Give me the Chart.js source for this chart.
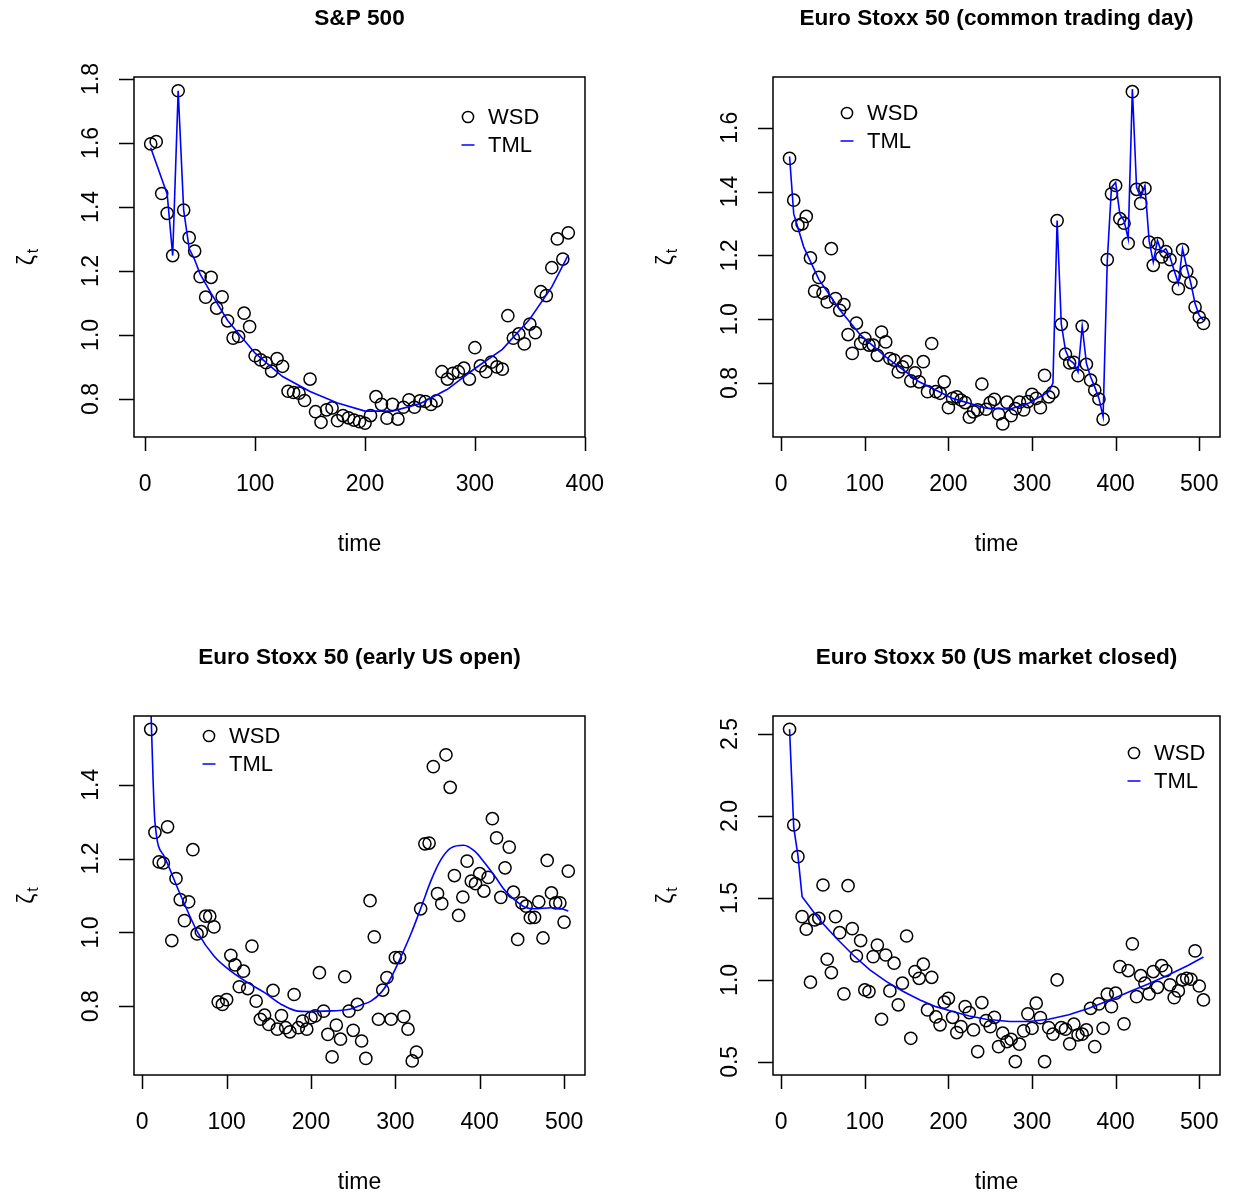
<!DOCTYPE html>
<html><head><meta charset="utf-8">
<script src="https://cdn.jsdelivr.net/npm/chart.js@4.4.1/dist/chart.umd.min.js"></script>
<style>
html,body{margin:0;padding:0;background:#fff;width:1233px;height:1199px;overflow:hidden}
canvas{position:absolute}
</style></head><body>
<canvas id="c1" width="616" height="600" style="left:0px;top:0px"></canvas>
<canvas id="c2" width="616" height="600" style="left:617px;top:0px"></canvas>
<canvas id="c3" width="616" height="599" style="left:0px;top:600px"></canvas>
<canvas id="c4" width="616" height="599" style="left:617px;top:600px"></canvas>
<script>
// ---------- DATA ----------
const titles = ["S&P 500", "Euro Stoxx 50 (common trading day)", "Euro Stoxx 50 (early US open)", "Euro Stoxx 50 (US market closed)"];
const xLabel = "time";

const spTime = [5,10,15,20,25,30,35,40,45,50,55,60,65,70,75,80,85,90,95,100,105,110,115,120,125,130,135,140,145,150,155,160,165,170,175,180,185,190,195,200,205,210,215,220,225,230,235,240,245,250,255,260,265,270,275,280,285,290,295,300,305,310,315,320,325,330,335,340,345,350,355,360,365,370,375,380,385];
const spWSD = [1.597,1.604,1.442,1.38,1.248,1.763,1.39,1.304,1.262,1.182,1.118,1.18,1.084,1.119,1.044,0.99,0.995,1.068,1.026,0.935,0.922,0.913,0.887,0.926,0.902,0.824,0.82,0.818,0.795,0.862,0.76,0.727,0.766,0.772,0.732,0.748,0.741,0.734,0.729,0.724,0.748,0.807,0.783,0.74,0.783,0.737,0.774,0.797,0.774,0.794,0.792,0.783,0.794,0.885,0.862,0.88,0.885,0.896,0.862,0.96,0.903,0.885,0.915,0.9,0.893,1.06,0.99,1.003,0.972,1.034,1.007,1.135,1.123,1.21,1.30,1.237,1.319];
const spTmlTime = [5,20,25,30,35,40,45,50,60,75,100,125,150,175,200,225,250,275,300,325,350,370,385];
const spTML = [1.585,1.44,1.248,1.763,1.39,1.27,1.235,1.19,1.13,1.045,0.943,0.87,0.823,0.787,0.762,0.762,0.785,0.83,0.895,0.955,1.05,1.15,1.25];

const euTime = [10,15,20,25,30,35,40,45,50,55,60,65,70,75,80,85,90,95,100,105,110,115,120,125,130,135,140,145,150,155,160,165,170,175,180,185,190,195,200,205,210,215,220,225,230,235,240,245,250,255,260,265,270,275,280,285,290,295,300,305,310,315,320,325,330,335,340,345,350,355,360,365,370,375,380,385,390,395,400,405,410,415,420,425,430,435,440,445,450,455,460,465,470,475,480,485,490,495,500,505];

const commonWSD = [1.504,1.373,1.294,1.299,1.322,1.192,1.088,1.131,1.082,1.054,1.221,1.065,1.028,1.046,0.952,0.893,0.988,0.924,0.94,0.919,0.919,0.887,0.96,0.929,0.877,0.872,0.835,0.851,0.867,0.807,0.832,0.804,0.867,0.773,0.924,0.773,0.768,0.804,0.723,0.752,0.757,0.747,0.739,0.693,0.71,0.716,0.797,0.718,0.739,0.749,0.703,0.672,0.74,0.698,0.72,0.74,0.716,0.742,0.765,0.752,0.723,0.824,0.757,0.771,1.309,0.984,0.891,0.863,0.865,0.823,0.978,0.859,0.809,0.778,0.75,0.687,1.187,1.393,1.419,1.315,1.301,1.238,1.713,1.407,1.363,1.41,1.242,1.169,1.237,1.195,1.212,1.187,1.134,1.096,1.218,1.15,1.115,1.038,1.007,0.987];
const commonTmlTime = [10,15,27,45,70,95,125,165,205,245,273,296,320,325,330,335,340,345,350,355,360,365,370,375,380,385,390,395,400,405,410,415,420,425,430,435,440,445,450,455,460,465,470,475,480,485,490,495,500,505];
const commonTML = [1.51,1.33,1.226,1.125,1.03,0.95,0.882,0.804,0.752,0.721,0.718,0.737,0.773,0.8,1.309,0.985,0.903,0.872,0.862,0.835,0.978,0.862,0.82,0.788,0.752,0.695,1.184,1.413,1.429,1.33,1.309,1.252,1.721,1.413,1.382,1.419,1.247,1.179,1.247,1.21,1.221,1.195,1.153,1.112,1.221,1.163,1.112,1.049,1.012,0.997];

const earlyWSD = [1.55,1.271,1.191,1.188,1.286,0.978,1.146,1.089,1.032,1.083,1.224,0.996,1.002,1.044,1.044,1.015,0.812,0.805,0.818,0.938,0.912,0.853,0.895,0.848,0.963,0.814,0.765,0.776,0.751,0.843,0.738,0.775,0.742,0.731,0.832,0.742,0.76,0.738,0.769,0.774,0.891,0.787,0.724,0.663,0.749,0.711,0.88,0.787,0.735,0.805,0.706,0.659,1.086,0.988,0.765,0.844,0.878,0.765,0.932,0.932,0.772,0.738,0.652,0.676,1.064,1.24,1.242,1.449,1.105,1.078,1.481,1.393,1.154,1.046,1.096,1.193,1.139,1.132,1.159,1.112,1.149,1.308,1.256,1.095,1.175,1.231,1.109,0.981,1.08,1.071,1.04,1.041,1.083,0.985,1.195,1.107,1.08,1.08,1.028,1.166];
const earlyTmlTime = [10,15,26,46,66,85,105,125,145,165,184,196,216,246,259,271,283,295,307,319,331,342,354,366,381,394,406,418,429,441,453,465,485,497,505];
const earlyTML = [1.62,1.30,1.206,1.098,0.999,0.936,0.895,0.864,0.837,0.805,0.787,0.786,0.787,0.792,0.803,0.814,0.837,0.878,0.936,0.999,1.071,1.139,1.197,1.229,1.236,1.22,1.188,1.152,1.116,1.089,1.069,1.064,1.067,1.064,1.058];

const closedWSD = [2.529,1.945,1.752,1.386,1.309,0.986,1.366,1.376,1.579,1.126,1.045,1.386,1.288,0.915,1.575,1.313,1.146,1.24,0.939,0.929,1.142,1.213,0.76,1.152,0.933,1.102,0.848,0.98,1.268,0.644,1.051,1.01,1.096,0.817,1.016,0.774,0.726,0.864,0.888,0.772,0.679,0.715,0.837,0.801,0.695,0.563,0.862,0.752,0.715,0.772,0.593,0.675,0.624,0.638,0.502,0.608,0.689,0.793,0.705,0.858,0.77,0.502,0.709,0.669,1.0,0.709,0.699,0.61,0.73,0.665,0.669,0.695,0.827,0.593,0.854,0.705,0.913,0.837,0.919,1.081,0.732,1.057,1.22,0.898,1.026,0.98,0.915,1.051,0.955,1.087,1.057,0.97,0.892,0.933,1.0,1.01,1.004,1.177,0.963,0.878];
const closedTmlTime = [10,15,20,25,46,66,86,106,126,146,166,185,205,225,245,273,296,320,344,368,392,415,439,463,487,505];
const closedTML = [2.53,1.93,1.76,1.508,1.366,1.254,1.152,1.061,0.99,0.929,0.878,0.837,0.807,0.78,0.76,0.746,0.746,0.76,0.787,0.827,0.875,0.925,0.975,1.03,1.09,1.14];

const spXTicks = [0,100,200,300,400];
const euXTicks = [0,100,200,300,400,500];
const spYTicks = [0.8,1.0,1.2,1.4,1.6,1.8];
const commonYTicks = [0.8,1.0,1.2,1.4,1.6];
const earlyYTicks = [0.8,1.0,1.2,1.4];
const closedYTicks = [0.5,1.0,1.5,2.0,2.5];

// ---------- DRAWING ----------
const FONT = '"Liberation Sans", Arial, Helvetica, sans-serif';

const rPlot = {
  id: 'rPlot',
  afterDraw(chart) {
    const o = chart.options.plugins.rPlot;
    const ctx = chart.ctx, a = chart.chartArea, xs = chart.scales.x, ys = chart.scales.y;
    ctx.save();
    ctx.strokeStyle = '#000'; ctx.fillStyle = '#000'; ctx.lineWidth = 1.5;
    ctx.strokeRect(a.left, a.top, a.right - a.left, a.bottom - a.top);
    // ticks
    ctx.beginPath();
    o.xTicks.forEach(v => { const p = Math.round(xs.getPixelForValue(v)) + 0.5; ctx.moveTo(p, a.bottom); ctx.lineTo(p, a.bottom + 14); });
    o.yTicks.forEach(v => { const p = Math.round(ys.getPixelForValue(v)) + 0.5; ctx.moveTo(a.left, p); ctx.lineTo(a.left - 15, p); });
    ctx.stroke();
    ctx.font = '23px ' + FONT; ctx.textAlign = 'center'; ctx.textBaseline = 'middle';
    o.xTicks.forEach(v => ctx.fillText(String(v), xs.getPixelForValue(v), a.bottom + 48));
    o.yTicks.forEach(v => {
      ctx.save(); ctx.translate(a.left - 42, ys.getPixelForValue(v)); ctx.rotate(-Math.PI / 2);
      ctx.fillText(v.toFixed(1), 0, 0); ctx.restore();
    });
    // axis titles
    const cx = (a.left + a.right) / 2, cy = (a.top + a.bottom) / 2;
    ctx.fillText(o.xTitle, cx, a.bottom + 108);
    ctx.save(); ctx.translate(a.left - 106, cy); ctx.rotate(-Math.PI / 2);
    ctx.font = '23px ' + FONT; const w1 = ctx.measureText('ζ').width;
    ctx.font = '16px ' + FONT; const w2 = ctx.measureText('t').width;
    const st = -(w1 + 2 + w2) / 2;
    ctx.textAlign = 'left';
    ctx.font = '23px ' + FONT; ctx.fillText('ζ', st, 0);
    ctx.font = '16px ' + FONT; ctx.fillText('t', st + w1 + 2, 6);
    ctx.restore();
    // title
    ctx.font = 'bold 22.6px ' + FONT; ctx.textAlign = 'center';
    ctx.fillText(o.title, cx, a.top - 58.5);
    // legend
    const L = o.legend;
    const lx = a.left + L.x, ly = a.top + L.y;
    ctx.lineWidth = 1.5;
    ctx.beginPath(); ctx.arc(lx, ly, 5.6, 0, Math.PI * 2); ctx.stroke();
    ctx.strokeStyle = '#0000ff'; ctx.lineWidth = 1.5;
    ctx.beginPath(); ctx.moveTo(lx - 6.5, ly + 28); ctx.lineTo(lx + 6.5, ly + 28); ctx.stroke();
    ctx.font = '22px ' + FONT; ctx.textAlign = 'left'; ctx.fillStyle = '#000';
    ctx.fillText('WSD', lx + 20, ly + 1);
    ctx.fillText('TML', lx + 20, ly + 29);
    ctx.restore();
  }
};

function toXY(xs, ys) { return xs.map((x, i) => ({ x: x, y: ys[i] })); }

function makeChart(id, cfg) {
  return new Chart(document.getElementById(id), {
    type: 'scatter',
    data: {
      datasets: [
        { label: 'WSD', data: toXY(cfg.time, cfg.wsd), showLine: false, pointStyle: 'circle',
          pointRadius: 6.1, pointHoverRadius: 6.1, pointBorderWidth: 1.5, pointBackgroundColor: 'rgba(0,0,0,0)',
          pointBorderColor: '#000', borderColor: '#000', clip: false, order: 2 },
        { label: 'TML', data: toXY(cfg.tmlTime, cfg.tml), showLine: true, pointRadius: 0, borderColor: '#0000ff',
          borderWidth: 1.6, tension: 0, cubicInterpolationMode: cfg.smooth ? 'monotone' : 'default',
          fill: false, clip: 0, order: 1 }
      ]
    },
    options: {
      responsive: false, animation: false, devicePixelRatio: 1,
      layout: { padding: cfg.pad },
      scales: {
        x: { type: 'linear', display: false, min: cfg.xr[0], max: cfg.xr[1] },
        y: { type: 'linear', display: false, min: cfg.yr[0], max: cfg.yr[1] }
      },
      plugins: {
        legend: { display: false }, tooltip: { enabled: false }, title: { display: false },
        rPlot: { title: cfg.title, xTitle: xLabel, xTicks: cfg.xTicks, yTicks: cfg.yTicks, legend: cfg.legend }
      }
    },
    plugins: [rPlot]
  });
}

makeChart('c1', { time: spTime, wsd: spWSD, tmlTime: spTmlTime, tml: spTML, title: titles[0],
  xr: [-10.2, 400.2], yr: [0.681, 1.806], xTicks: spXTicks, yTicks: spYTicks,
  pad: { left: 134, top: 77, right: 31, bottom: 163 }, legend: { x: 334, y: 40 } });
makeChart('c2', { time: euTime, wsd: commonWSD, tmlTime: commonTmlTime, tml: commonTML, title: titles[1],
  xr: [-9.8, 524.8], yr: [0.631, 1.759], xTicks: euXTicks, yTicks: commonYTicks,
  pad: { left: 156, top: 77, right: 13, bottom: 163 }, legend: { x: 74, y: 36 } });
makeChart('c3', { time: euTime, wsd: earlyWSD, tmlTime: earlyTmlTime, tml: earlyTML, title: titles[2],
  xr: [-9.8, 524.8], yr: [0.614, 1.586], xTicks: euXTicks, yTicks: earlyYTicks, smooth: true,
  pad: { left: 134, top: 116, right: 31, bottom: 124 }, legend: { x: 75, y: 20 } });
makeChart('c4', { time: euTime, wsd: closedWSD, tmlTime: closedTmlTime, tml: closedTML, title: titles[3],
  xr: [-9.8, 524.8], yr: [0.42, 2.61], xTicks: euXTicks, yTicks: closedYTicks,
  pad: { left: 156, top: 116, right: 13, bottom: 124 }, legend: { x: 361, y: 37 } });
</script>
</body></html>
